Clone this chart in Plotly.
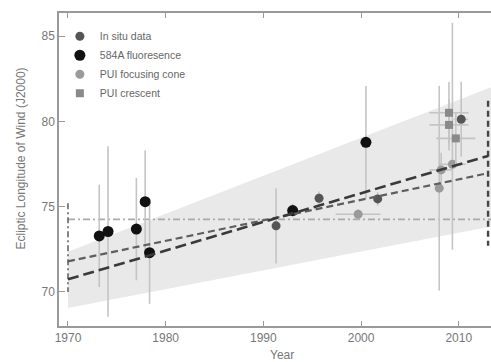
import plotly.graph_objects as go

# ---- data ----
# 584A fluorescence (black)
fl_year = [1973.2, 1974.1, 1977.0, 1977.9, 1978.35, 1993.0, 2000.5]
fl_lon = [73.28, 73.54, 73.68, 75.29, 72.30, 74.77, 78.77]
fl_err = [3.0, 5.0, 3.0, 3.0, 3.0, 0.4, 3.3]

# In situ data (dark gray)
is_year = [1991.3, 1995.7, 2001.7, 2010.25]
is_lon = [73.87, 75.49, 75.45, 80.12]
is_err = [2.2, 0.4, 0.4, 2.2]
is_xerr = [0.0, 0.0, 0.0, 0.7]

# PUI focusing cone (light gray)
pc_year = [1999.7, 2008.0, 2008.2, 2009.35]
pc_lon = [74.55, 76.08, 77.15, 77.48]
pc_err_plus = [0.3, 6.0, 1.0, 8.3]
pc_err_minus = [0.3, 6.0, 1.0, 5.0]
pc_xerr = [2.3, 0.0, 1.2, 1.4]

# PUI crescent (gray squares)
cr_year = [2009.0, 2009.0, 2009.7]
cr_lon = [80.50, 79.79, 79.00]
cr_err = [1.8, 1.5, 1.5]
cr_xerr = [2.0, 2.0, 2.0]

# uncertainty band (years, upper, lower)
band_year = [1970.0, 2013.3]
band_upper = [72.35, 82.00]
band_lower = [69.06, 73.84]

# fit lines
fit_year = [1970.0, 2013.0]
fit_long = [70.74, 77.97]
fit_short = [71.79, 76.96]

# reference lines
const_lon = 74.25
left_year = 1970.0
left_span = [75.2, 70.0]
right_year = 2013.0
right_span = [81.2, 72.7]

x_ticks = [1970, 1980, 1990, 2000, 2010]
y_ticks = [70, 75, 80, 85]

fig = go.Figure()

# band
fig.add_trace(go.Scatter(
    x=band_year + band_year[::-1], y=band_upper + band_lower[::-1],
    fill="toself", fillcolor="rgba(215,215,215,0.55)", line=dict(width=0),
    mode="lines", hoverinfo="skip", showlegend=False))

# horizontal dash-dot line
fig.add_trace(go.Scatter(
    x=[left_year, right_year + 0.3], y=[const_lon, const_lon], mode="lines",
    line=dict(color="#aaaaaa", width=1.6, dash="7px,3px,2px,3px"),
    showlegend=False, hoverinfo="skip"))

# vertical lines
fig.add_trace(go.Scatter(
    x=[left_year, left_year], y=left_span, mode="lines",
    line=dict(color="#666666", width=1.6, dash="6px,3px,2px,3px"),
    showlegend=False, hoverinfo="skip"))
fig.add_trace(go.Scatter(
    x=[right_year, right_year], y=right_span, mode="lines",
    line=dict(color="#444444", width=2.4, dash="6px,4px"),
    showlegend=False, hoverinfo="skip"))

eb = dict(color="#c4c4c4", thickness=1.6, width=0)

# In situ
fig.add_trace(go.Scatter(
    x=is_year, y=is_lon, mode="markers", name="In situ data",
    marker=dict(color="#555555", size=9),
    error_y=dict(type="data", array=is_err, **eb),
    error_x=dict(type="data", array=is_xerr, **eb)))

# 584A
fig.add_trace(go.Scatter(
    x=fl_year, y=fl_lon, mode="markers", name="584A fluoresence",
    marker=dict(color="#111111", size=11),
    error_y=dict(type="data", array=fl_err, **eb)))

# PUI cone
fig.add_trace(go.Scatter(
    x=pc_year, y=pc_lon, mode="markers", name="PUI focusing cone",
    marker=dict(color="#9a9a9a", size=9),
    error_y=dict(type="data", array=pc_err_plus, arrayminus=pc_err_minus, **eb),
    error_x=dict(type="data", array=pc_xerr, **eb)))

# PUI crescent
fig.add_trace(go.Scatter(
    x=cr_year, y=cr_lon, mode="markers", name="PUI crescent",
    marker=dict(color="#8a8a8a", size=8, symbol="square"),
    error_y=dict(type="data", array=cr_err, **eb),
    error_x=dict(type="data", array=cr_xerr, **eb)))

# fit lines
fig.add_trace(go.Scatter(
    x=fit_year, y=fit_short, mode="lines",
    line=dict(color="#5e5e5e", width=2.2, dash="7px,4px"),
    showlegend=False, hoverinfo="skip"))
fig.add_trace(go.Scatter(
    x=fit_year, y=fit_long, mode="lines",
    line=dict(color="#3a3a3a", width=2.6, dash="11px,5px"),
    showlegend=False, hoverinfo="skip"))

fig.update_layout(
    width=491, height=362,
    margin=dict(l=59, r=0, t=13, b=36, autoexpand=False),
    paper_bgcolor="white", plot_bgcolor="white",
    font=dict(family="Liberation Sans, Arial, sans-serif", color="#777777", size=12),
    showlegend=True,
    legend=dict(x=0.002, y=0.972, xanchor="left", yanchor="top",
                bgcolor="rgba(0,0,0,0)", font=dict(size=10.5, color="#666666"),
                tracegroupgap=0, itemwidth=30),
    xaxis=dict(range=[1969.08, 2013.3], tickvals=x_ticks, ticks="inside",
               ticklen=5, tickcolor="#999999", showgrid=False, zeroline=False,
               showline=True, linecolor="#999999", linewidth=1.5, mirror="ticks",
               automargin=False,
               tickfont=dict(size=12, color="#777777")),
    yaxis=dict(range=[68.0, 86.35], tickvals=y_ticks, ticks="inside",
               ticklen=6, tickcolor="#999999", showgrid=False, zeroline=False,
               showline=True, linecolor="#999999", linewidth=1.5,
               automargin=False,
               tickfont=dict(size=12, color="#777777")),
    annotations=[
        dict(text="Ecliptic Longitude of Wind (J2000)", xref="paper", yref="paper",
             x=-0.088, y=0.535, textangle=-90, showarrow=False,
             font=dict(size=12, color="#777777"), xanchor="center", yanchor="middle"),
        dict(text="Year", xref="paper", yref="paper", x=0.516, y=-0.092,
             showarrow=False, font=dict(size=12, color="#777777"),
             xanchor="center", yanchor="middle"),
    ],
)

fig.write_html("out.html",
               config={"displayModeBar": False},
               post_script="document.body.style.margin='0';document.body.style.overflow='hidden';")
